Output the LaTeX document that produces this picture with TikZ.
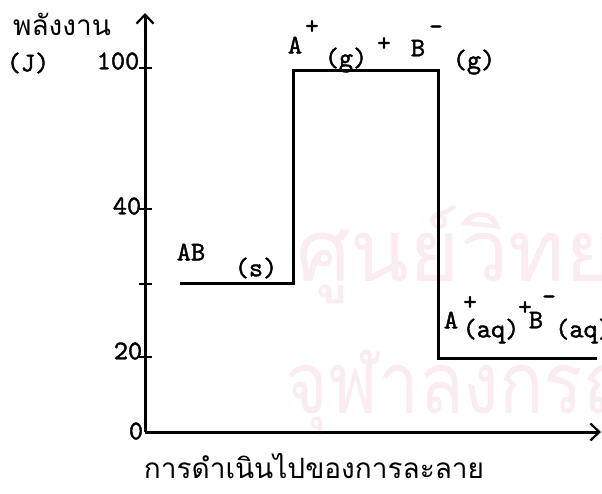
\documentclass[tikz,border=0pt]{standalone}
\usepackage{fontspec}
\usepackage{tikz}
\usetikzlibrary{arrows.meta}
\newfontfamily\thaifont[Script=Thai]{Loma}
\newfontfamily\typefont[FakeBold=1.5]{lmmono10-regular.otf}
\definecolor{WaterPink}{RGB}{250,236,242}

\begin{document}
\begin{tikzpicture}[x=1pt, y=-1pt,
		axis/.style={line width=3pt, -{Straight Barb[length=9pt, width=17pt, line width=2.2pt]}},
		stage/.style={line width=3pt, line join=miter},
		axtick/.style={line width=2.2pt},
		tw/.style={inner sep=0pt, font=\typefont\fontsize{27}{30}\selectfont},
		sgn/.style={inner sep=0pt, font=\typefont\fontsize{26}{28}\selectfont},
		thai/.style={inner sep=0pt, font=\thaifont\fontsize{28}{32}\selectfont},
		wmark/.style={inner sep=0pt, anchor=base west, text=WaterPink, font=\thaifont\fontsize{86}{90}\selectfont}]
		\useasboundingbox (0,0) rectangle (602,493);
		\clip (0,0) rectangle (602,493);
		
		% watermark of the scan
		\node[wmark] (wm1) at (296,281) {ศูนย์วิทยทรัพยากร};
		\node[wmark, xscale=0.85, transform shape] (wm2) at (285,413) {จุฬาลงกรณ์มหาวิทยาลัย};
		
		\coordinate (O) at (145,432);
		\coordinate (ytip) at (145,13);
		\coordinate (xtip) at (601,432);
		\draw[axis] (O) -- (ytip);
		\draw[axis] (O) -- (xtip);
		\foreach \y in {68,209,284,357}
			\draw[axtick] (139,\y) -- (152,\y);
		
		\coordinate (ab1) at (180,283);
		\coordinate (ab2) at (293,283);
		\coordinate (gas1) at (293,70);
		\coordinate (gas2) at (438,70);
		\coordinate (aq1) at (438,358);
		\coordinate (aq2) at (597,358);
		\draw[stage] (ab1) -- (ab2) -- (gas1) -- (gas2) -- (aq1) -- (aq2);
		
		\node[thai] (ylab) at (62,24) {พลังงาน};
		\node[tw] (unit) at (28,63) {(J)};
		\node[tw] (v100) at (118,61) {100};
		\node[tw] (v40) at (127,206) {40};
		\node[tw] (v20) at (128,351) {20};
		\node[tw] (v0) at (136,431) {0};
		\node[thai] (xlab) at (314,466) {การดำเนินไปของการละลาย};
		
		\node[tw] (ab) at (191,252) {AB};
		\node[tw] (abs) at (256,268) {(s)};
		
		\node[tw] (ga) at (295,45) {A};
		\node[sgn] (gap) at (312,27) {+};
		\node[tw] (gag) at (346,60) {(g)};
		\node[sgn] (gplus) at (384,44) {+};
		\node[tw] (gb) at (418,48) {B};
		\node[sgn] (gbm) at (436,30) {-};
		\node[tw] (gbg) at (474,62) {(g)};
		
		\node[tw] (qa) at (451,320) {A};
		\node[sgn] (qap) at (470,303) {+};
		\node[tw] (qaq) at (491,331) {(aq)};
		\node[sgn] (qplus) at (525,308) {+};
		\node[tw] (qb) at (536,320) {B};
		\node[sgn] (qbm) at (549,300) {-};
		\node[tw, anchor=west] (qbq) at (555,331) {(aq)};
	\end{tikzpicture}
\end{document}
